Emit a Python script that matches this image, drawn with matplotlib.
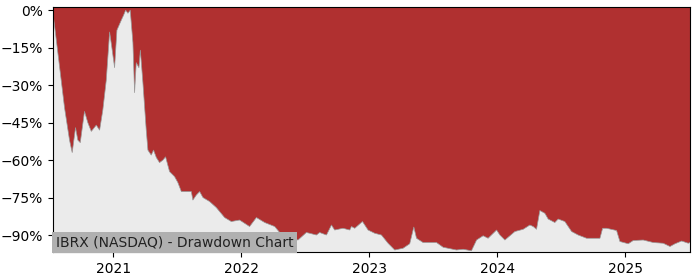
import matplotlib
matplotlib.use("Agg")
import matplotlib.pyplot as plt
import matplotlib.dates as mdates
import pandas as pd
import numpy as np

# dates as decimal years
years = [2020.531, 2020.538, 2020.569, 2020.595, 2020.621, 2020.660, 2020.681, 2020.707,
         2020.725, 2020.744, 2020.777, 2020.803, 2020.830, 2020.869, 2020.895, 2020.920,
         2020.947, 2020.973, 2020.988, 2021.012, 2021.030, 2021.064, 2021.082, 2021.098,
         2021.116, 2021.134, 2021.155, 2021.168, 2021.181, 2021.202, 2021.213, 2021.233,
         2021.259, 2021.272, 2021.298, 2021.316, 2021.338, 2021.363, 2021.389, 2021.410,
         2021.441, 2021.480, 2021.506, 2021.533, 2021.611, 2021.623, 2021.650, 2021.676,
         2021.702, 2021.754, 2021.806, 2021.871, 2021.923, 2021.988, 2022.066, 2022.119,
         2022.184, 2022.262, 2022.327, 2022.444, 2022.509, 2022.535, 2022.588, 2022.613,
         2022.666, 2022.705, 2022.730, 2022.795, 2022.848, 2022.861, 2022.887, 2022.947,
         2022.991, 2023.043, 2023.095, 2023.147, 2023.199, 2023.264, 2023.316, 2023.348,
         2023.369, 2023.420, 2023.525, 2023.577, 2023.681, 2023.733, 2023.798, 2023.838,
         2023.889, 2023.928, 2023.994, 2024.020, 2024.059, 2024.137, 2024.202, 2024.254,
         2024.280, 2024.306, 2024.332, 2024.371, 2024.397, 2024.449, 2024.475, 2024.527,
         2024.580, 2024.631, 2024.697, 2024.801, 2024.822, 2024.853, 2024.931, 2024.957,
         2025.022, 2025.061, 2025.139, 2025.217, 2025.295, 2025.348, 2025.387, 2025.439,
         2025.491, 2025.504]
drawdown = [-2, -4, -17, -28, -39, -52, -57, -47,
            -52, -53, -40.5, -45, -48.5, -46, -48, -40,
            -28, -8.7, -14, -23, -8, -4, -2, 0,
            -1.2, 0, -13, -33, -21, -23, -16, -29,
            -48, -56, -58, -56, -59, -61, -60, -58.7,
            -64.6, -66.6, -69, -72.6, -72.6, -76, -74, -72.6,
            -75, -76.6, -79, -83, -84.6, -84, -86.6, -83,
            -85, -86.6, -90.6, -92, -89, -89.3, -90, -89,
            -90, -86, -88, -87.3, -88, -86.6, -87.3, -84.6,
            -88, -89.3, -90, -93.3, -96, -95.3, -93.5, -86.8,
            -91.3, -93, -93, -94.9, -96, -95.7, -96.3, -92,
            -90.3, -91.3, -88, -90, -92, -88.6, -87.7, -86,
            -86.6, -87.7, -80.2, -81.3, -83.6, -85, -83.6, -84.6,
            -88.6, -90, -91.3, -91.3, -87.3, -87.3, -88.2, -92.6,
            -93.5, -92.2, -92, -93, -93.3, -94.6, -93.5, -92.4,
            -93.3, -93]
y_ticks = [0, -15, -30, -45, -60, -75, -90]
title_text = "IBRX (NASDAQ) - Drawdown Chart"

yr = np.array(years)
x = pd.Timestamp("2021-01-01") + pd.to_timedelta((yr - 2021) * 365.25, unit="D")
y = np.array(drawdown)

fig = plt.figure(figsize=(7, 2.8), dpi=100)
ax = fig.add_axes([0.0757, 0.1, 0.91, 0.875])
red = "#b03030"
gray = "#ebebeb"
ax.set_facecolor(red)
ax.fill_between(x, y, -200, color=gray, linewidth=0)
ax.plot(x, y, color="#999999", linewidth=0.5)
ax.set_xlim(x[0], x[-1])
ax.set_ylim(-96.8, 1.3)
ax.set_yticks(y_ticks)
ax.set_yticklabels([f"{t}%".replace("-", "\u2212") for t in y_ticks])
ax.xaxis.set_major_locator(mdates.YearLocator())
ax.xaxis.set_major_formatter(mdates.DateFormatter("%Y"))
ax.tick_params(labelsize=10)
ax.text(0.004, 0.012, title_text, transform=ax.transAxes, ha="left", va="bottom",
        fontsize=10, color="#222222",
        bbox=dict(facecolor="#b0b0b0", edgecolor="none", pad=2.5))
fig.savefig("out.png", dpi=100)
